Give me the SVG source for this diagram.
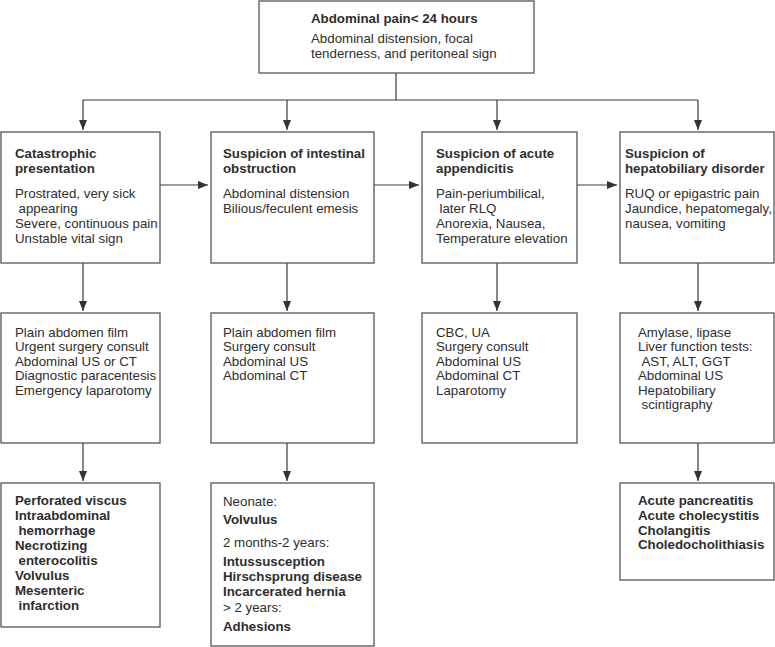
<svg xmlns="http://www.w3.org/2000/svg" width="775" height="647" viewBox="0 0 775 647">
<style>
.box{fill:#fff;stroke:#555;stroke-width:1.3}
.ln{fill:none;stroke:#3a3a3a;stroke-width:1.2}
text{font-family:"Liberation Sans",Arial,sans-serif;font-size:13.3px;fill:#2e2e2e}
.b{font-weight:bold}
</style>
<defs>
<marker id="ah" markerUnits="userSpaceOnUse" markerWidth="10" markerHeight="10" viewBox="0 0 10 10" refX="10" refY="5" orient="auto">
<path d="M0,1 L10,5 L0,9 Z" fill="#333"/>
</marker>
</defs>
<rect width="775" height="647" fill="#fff"/>
<g id="connectors">
<path class="ln" d="M396,73 V100 M83,100 H698"/>
<path class="ln" d="M83,100 V130" marker-end="url(#ah)"/>
<path class="ln" d="M287,100 V130" marker-end="url(#ah)"/>
<path class="ln" d="M497,100 V130" marker-end="url(#ah)"/>
<path class="ln" d="M698,100 V130" marker-end="url(#ah)"/>
<path class="ln" d="M160,185 H208" marker-end="url(#ah)"/>
<path class="ln" d="M374,185 H419" marker-end="url(#ah)"/>
<path class="ln" d="M577,185 H617" marker-end="url(#ah)"/>
<path class="ln" d="M83,263 V311" marker-end="url(#ah)"/>
<path class="ln" d="M287,263 V311" marker-end="url(#ah)"/>
<path class="ln" d="M497,263 V311" marker-end="url(#ah)"/>
<path class="ln" d="M698,263 V311" marker-end="url(#ah)"/>
<path class="ln" d="M83,443 V481" marker-end="url(#ah)"/>
<path class="ln" d="M287,443 V481" marker-end="url(#ah)"/>
<path class="ln" d="M698,443 V481" marker-end="url(#ah)"/>
</g>
<g id="top">
<rect class="box" x="259" y="1" width="275" height="72"/>
<text class="b" x="311" y="23">Abdominal pain&lt; 24 hours</text>
<text x="311" y="43">Abdominal distension, focal</text>
<text x="311" y="58">tenderness, and peritoneal sign</text>
</g>
<g id="catastrophic">
<rect class="box" x="1" y="132" width="159" height="131"/>
<text class="b" x="15" y="158">Catastrophic</text>
<text class="b" x="15" y="173">presentation</text>
<text x="15" y="198">Prostrated, very sick</text>
<text x="18.5" y="213">appearing</text>
<text x="15" y="228">Severe, continuous pain</text>
<text x="15" y="243">Unstable vital sign</text>
</g>
<g id="obstruction">
<rect class="box" x="211" y="132" width="163" height="131"/>
<text class="b" x="223" y="158">Suspicion of intestinal</text>
<text class="b" x="223" y="173">obstruction</text>
<text x="223" y="198">Abdominal distension</text>
<text x="223" y="213">Bilious/feculent emesis</text>
</g>
<g id="appendicitis">
<rect class="box" x="422" y="132" width="155" height="131"/>
<text class="b" x="436" y="158">Suspicion of acute</text>
<text class="b" x="436" y="173">appendicitis</text>
<text x="436" y="198">Pain-periumbilical,</text>
<text x="439.5" y="213">later RLQ</text>
<text x="436" y="228">Anorexia, Nausea,</text>
<text x="436" y="243">Temperature elevation</text>
</g>
<g id="hepatobiliary">
<rect class="box" x="620" y="132" width="154" height="131"/>
<text class="b" x="625" y="158">Suspicion of</text>
<text class="b" x="625" y="173">hepatobiliary disorder</text>
<text x="625" y="198">RUQ or epigastric pain</text>
<text x="625" y="213">Jaundice, hepatomegaly,</text>
<text x="625" y="228">nausea, vomiting</text>
</g>
<g id="workup1">
<rect class="box" x="1" y="313" width="159" height="130"/>
<text x="15" y="336.5">Plain abdomen film</text>
<text x="15" y="351">Urgent surgery consult</text>
<text x="15" y="365.5">Abdominal US or CT</text>
<text x="15" y="380">Diagnostic paracentesis</text>
<text x="15" y="394.5">Emergency laparotomy</text>
</g>
<g id="workup2">
<rect class="box" x="211" y="313" width="163" height="130"/>
<text x="223" y="336.5">Plain abdomen film</text>
<text x="223" y="351">Surgery consult</text>
<text x="223" y="365.5">Abdominal US</text>
<text x="223" y="380">Abdominal CT</text>
</g>
<g id="workup3">
<rect class="box" x="422" y="313" width="155" height="130"/>
<text x="436" y="336.5">CBC, UA</text>
<text x="436" y="351">Surgery consult</text>
<text x="436" y="365.5">Abdominal US</text>
<text x="436" y="380">Abdominal CT</text>
<text x="436" y="394.5">Laparotomy</text>
</g>
<g id="workup4">
<rect class="box" x="620" y="313" width="154" height="130"/>
<text x="638" y="336.5">Amylase, lipase</text>
<text x="638" y="351">Liver function tests:</text>
<text x="641.5" y="365.5">AST, ALT, GGT</text>
<text x="638" y="380">Abdominal US</text>
<text x="638" y="394.5">Hepatobiliary</text>
<text x="641.5" y="409">scintigraphy</text>
</g>
<g id="dx1">
<rect class="box" x="1" y="483" width="159" height="144"/>
<text class="b" x="15" y="505">Perforated viscus</text>
<text class="b" x="15" y="520">Intraabdominal</text>
<text class="b" x="18.5" y="535">hemorrhage</text>
<text class="b" x="15" y="550">Necrotizing</text>
<text class="b" x="18.5" y="565">enterocolitis</text>
<text class="b" x="15" y="580">Volvulus</text>
<text class="b" x="15" y="595">Mesenteric</text>
<text class="b" x="18.5" y="610">infarction</text>
</g>
<g id="dx2">
<rect class="box" x="211" y="483" width="163" height="163"/>
<text x="223" y="506">Neonate:</text>
<text class="b" x="223" y="524">Volvulus</text>
<text x="223" y="546.5">2 months-2 years:</text>
<text class="b" x="223" y="566">Intussusception</text>
<text class="b" x="223" y="581">Hirschsprung disease</text>
<text class="b" x="223" y="596">Incarcerated hernia</text>
<text x="223" y="612">&gt; 2 years:</text>
<text class="b" x="223" y="631">Adhesions</text>
</g>
<g id="dx4">
<rect class="box" x="620" y="483" width="154" height="97"/>
<text class="b" x="638" y="505">Acute pancreatitis</text>
<text class="b" x="638" y="520">Acute cholecystitis</text>
<text class="b" x="638" y="534.5">Cholangitis</text>
<text class="b" x="638" y="549">Choledocholithiasis</text>
</g>
</svg>
